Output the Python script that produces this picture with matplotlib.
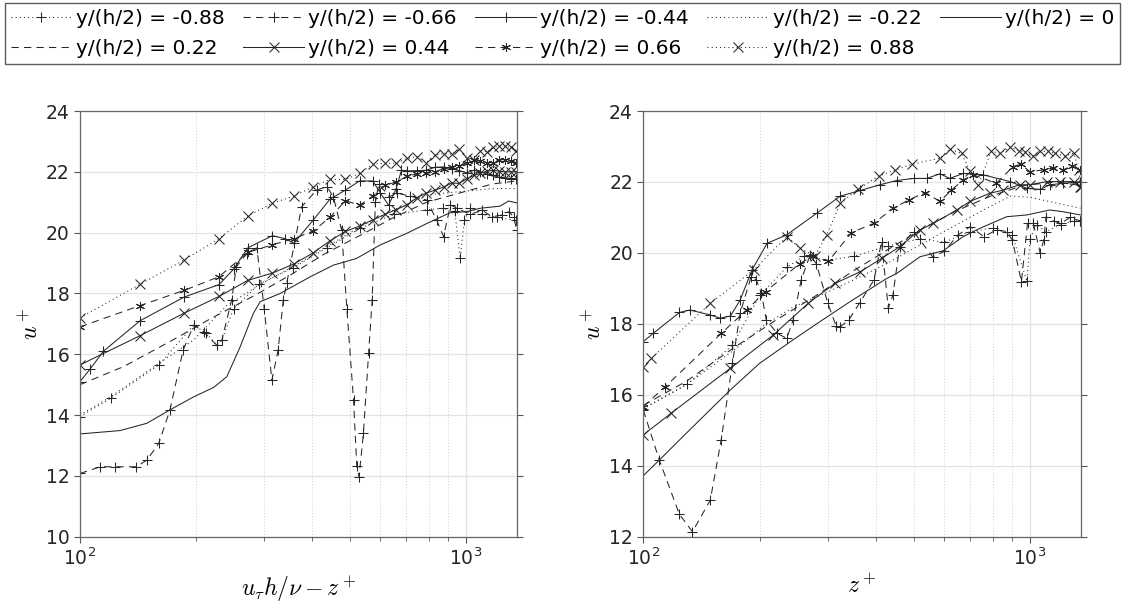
import numpy as np
import matplotlib
matplotlib.use("Agg")
import matplotlib.pyplot as plt
from matplotlib.lines import Line2D

plt.rcParams['mathtext.fontset'] = 'cm'
plt.rcParams['font.family'] = 'DejaVu Sans'

labels = ["y/(h/2) = -0.88", "y/(h/2) = -0.66", "y/(h/2) = -0.44", "y/(h/2) = -0.22",
          "y/(h/2) = 0", "y/(h/2) = 0.22", "y/(h/2) = 0.44", "y/(h/2) = 0.66", "y/(h/2) = 0.88"]

# ---------------- left panel data (x = u_tau h/nu - z+) ----------------
L_m088_x = [100, 120, 160, 197, 212, 226, 233, 250, 290, 357, 436, 532, 649, 791, 870, 935, 965, 990, 1025, 1100, 1200, 1350]
L_m088_u = [13.95, 14.55, 15.65, 16.96, 16.7, 16.3, 16.47, 17.5, 18.3, 18.85, 19.5, 20.15, 20.6, 20.75, 20.8, 20.7, 19.15, 20.4, 20.8, 20.6, 20.5, 20.4]

L_m066_x = [100, 113, 123, 140, 149, 160, 171, 185, 197, 209, 226, 233, 247, 254, 270, 287, 300, 314, 326, 336, 343, 375, 410, 436, 453, 476, 491, 511, 521, 528, 542, 559, 571, 582, 594, 633, 661, 716, 791, 839, 874, 911, 949, 1025, 1100, 1167, 1239, 1290, 1328, 1352]
L_m066_u = [12.08, 12.3, 12.3, 12.3, 12.52, 13.07, 14.17, 16.14, 16.96, 16.74, 16.3, 16.47, 17.78, 18.88, 19.3, 19.5, 17.5, 15.15, 16.14, 17.78, 18.33, 20.85, 21.4, 21.51, 21.18, 20.08, 17.5, 14.49, 12.32, 11.97, 13.4, 16.03, 17.78, 21.0, 21.6, 21.18, 21.3, 21.2, 21.07, 20.41, 19.87, 20.91, 20.8, 20.6, 20.74, 20.52, 20.58, 20.69, 20.52, 20.08]

L_m044_x = [100, 106, 115, 143, 186, 229, 250, 272, 315, 340, 358, 401, 444, 487, 530, 573, 600, 630, 659, 680, 702, 745, 788, 831, 874, 917, 960, 1003, 1046, 1089, 1132, 1175, 1218, 1261, 1304, 1350]
L_m044_u = [15.1, 15.5, 16.1, 17.1, 17.88, 18.29, 18.8, 19.5, 19.9, 19.8, 19.65, 20.4, 21.1, 21.4, 21.7, 21.7, 21.3, 20.9, 21.45, 22.05, 22.03, 22.04, 22.05, 22.15, 22.16, 22.1, 22.04, 21.97, 22.05, 22.0, 21.93, 21.88, 21.82, 21.8, 21.78, 21.78]

L_m022_x = [100, 120, 160, 197, 240, 293, 357, 436, 532, 649, 791, 965, 1178, 1350]
L_m022_u = [14.0, 14.6, 15.7, 16.47, 17.6, 18.3, 18.88, 19.54, 20.2, 20.74, 21.24, 21.35, 21.45, 21.45]

L_0_x = [100, 127, 149, 171, 197, 222, 240, 260, 281, 293, 330, 395, 453, 520, 598, 700, 791, 907, 1003, 1085, 1224, 1288, 1350]
L_0_u = [13.38, 13.49, 13.73, 14.17, 14.6, 14.91, 15.26, 16.25, 17.34, 17.73, 18.0, 18.55, 18.93, 19.15, 19.59, 19.97, 20.3, 20.65, 20.69, 20.8, 20.87, 21.04, 20.98]

L_022_x = [100, 130, 170, 220, 280, 350, 430, 530, 650, 790, 960, 1170, 1350]
L_022_u = [15.0, 15.6, 16.4, 17.2, 17.9, 18.6, 19.3, 19.9, 20.5, 21.0, 21.3, 21.6, 21.7]

L_044_x = [100, 143, 186, 229, 272, 315, 358, 401, 444, 487, 530, 573, 616, 659, 702, 745, 788, 831, 874, 917, 960, 1003, 1046, 1089, 1132, 1175, 1218, 1261, 1304, 1350]
L_044_u = [15.65, 16.61, 17.35, 17.9, 18.43, 18.67, 18.97, 19.33, 19.73, 20.04, 20.22, 20.42, 20.6, 20.76, 20.91, 21.15, 21.3, 21.4, 21.5, 21.63, 21.62, 21.77, 21.88, 21.95, 22.02, 22.05, 22.02, 22.0, 22.0, 22.0]

L_066_x = [100, 143, 186, 229, 272, 315, 358, 401, 444, 487, 530, 573, 616, 659, 702, 745, 788, 831, 874, 917, 960, 1003, 1046, 1089, 1132, 1175, 1218, 1261, 1304, 1350]
L_066_u = [16.9, 17.6, 18.1, 18.55, 19.35, 19.6, 19.8, 20.05, 20.5, 21.05, 20.9, 21.2, 21.55, 21.67, 21.85, 21.93, 21.95, 22.0, 22.1, 22.15, 22.2, 22.3, 22.4, 22.35, 22.3, 22.3, 22.4, 22.4, 22.35, 22.3]

L_088_x = [100, 143, 186, 229, 272, 315, 358, 401, 444, 487, 530, 573, 616, 659, 702, 745, 788, 831, 874, 917, 960, 1003, 1046, 1089, 1132, 1175, 1218, 1261, 1304, 1350]
L_088_u = [17.2, 18.3, 19.1, 19.8, 20.55, 20.97, 21.2, 21.5, 21.75, 21.75, 21.95, 22.25, 22.28, 22.28, 22.44, 22.5, 22.3, 22.55, 22.6, 22.58, 22.75, 22.45, 22.4, 22.7, 22.65, 22.8, 22.85, 22.85, 22.8, 22.7]

# ---------------- right panel data (x = z+) ----------------
R_m088_x = [100, 130, 170, 200, 235, 260, 300, 350, 430, 520, 600, 700, 800, 900, 981, 1000, 1040, 1100, 1200, 1300, 1350]
R_m088_u = [15.6, 16.3, 17.4, 18.8, 19.6, 19.9, 19.8, 19.9, 20.2, 20.4, 20.3, 20.6, 20.7, 20.5, 19.2, 20.4, 20.8, 20.6, 20.8, 20.9, 20.9]

R_m066_x = [100, 110, 124, 134, 149, 159, 170, 178, 190, 196, 202, 208, 222, 235, 244, 256, 270, 280, 300, 315, 323, 340, 363, 395, 413, 430, 442, 460, 500, 560, 600, 650, 700, 760, 820, 870, 900, 950, 985, 1020, 1062, 1085, 1100, 1150, 1200, 1270, 1350]
R_m066_u = [15.57, 14.16, 12.63, 12.14, 13.03, 14.73, 16.89, 18.3, 19.33, 19.24, 18.86, 18.11, 17.73, 17.59, 18.11, 19.24, 19.94, 19.7, 18.58, 17.95, 17.92, 18.11, 18.6, 19.24, 20.32, 18.44, 18.81, 20.18, 20.6, 19.89, 20.04, 20.5, 20.74, 20.46, 20.65, 20.6, 20.36, 19.19, 20.83, 20.83, 20.0, 20.36, 21.02, 20.9, 20.83, 21.0, 20.9]

R_m044_x = [100, 106, 124, 132, 149, 158, 168, 178, 191, 209, 235, 281, 323, 364, 409, 452, 500, 541, 585, 620, 672, 757, 889, 981, 1062, 1125, 1218, 1350]
R_m044_u = [17.5, 17.73, 18.32, 18.39, 18.25, 18.16, 18.22, 18.67, 19.52, 20.27, 20.51, 21.12, 21.6, 21.76, 21.92, 22.04, 22.1, 22.1, 22.23, 22.1, 22.24, 22.2, 22.01, 21.82, 21.79, 21.92, 21.96, 22.01]

R_m022_x = [100, 129, 174, 206, 245, 300, 350, 426, 519, 632, 755, 890, 1000, 1120, 1350]
R_m022_u = [15.62, 16.28, 17.31, 17.97, 18.48, 18.9, 19.24, 19.7, 20.22, 20.74, 21.2, 21.6, 21.57, 21.45, 21.26]

R_0_x = [100, 110, 129, 168, 200, 244, 286, 343, 426, 452, 519, 596, 672, 741, 870, 981, 1125, 1218, 1350]
R_0_u = [13.72, 14.16, 14.91, 16.14, 16.89, 17.55, 18.06, 18.63, 19.28, 19.42, 19.89, 20.06, 20.46, 20.69, 21.02, 21.07, 21.21, 21.16, 21.07]

R_022_x = [100, 130, 170, 220, 280, 350, 430, 530, 650, 790, 960, 1170, 1350]
R_022_u = [15.7, 16.4, 17.3, 18.1, 18.8, 19.5, 20.1, 20.7, 21.2, 21.6, 21.9, 22.0, 21.9]

R_044_x = [100, 118, 168, 217, 267, 313, 364, 414, 461, 519, 562, 646, 699, 787, 852, 940, 998, 1105, 1198, 1296, 1350]
R_044_u = [14.87, 15.48, 16.75, 17.69, 18.58, 19.14, 19.47, 19.85, 20.18, 20.65, 20.83, 21.21, 21.45, 21.68, 21.77, 21.92, 21.92, 22.01, 22.01, 22.01, 21.87]

R_066_x = [100, 114, 159, 185, 207, 254, 275, 301, 345, 394, 443, 485, 535, 585, 626, 672, 714, 818, 903, 948, 998, 1084, 1144, 1218, 1280, 1350]
R_066_u = [15.67, 16.23, 17.73, 18.39, 18.91, 19.7, 19.92, 19.76, 20.57, 20.83, 21.26, 21.49, 21.7, 21.45, 21.77, 22.06, 22.2, 21.96, 22.43, 22.5, 22.29, 22.34, 22.39, 22.34, 22.45, 22.34]

R_088_x = [100, 105, 149, 193, 235, 254, 278, 298, 323, 360, 406, 448, 495, 585, 620, 665, 699, 734, 793, 837, 889, 935, 972, 1019, 1062, 1115, 1158, 1229, 1296, 1337, 1352]
R_088_u = [16.79, 17.03, 18.58, 19.52, 20.46, 20.13, 19.92, 20.5, 21.4, 21.8, 22.17, 22.34, 22.5, 22.67, 22.92, 22.81, 22.3, 21.9, 22.86, 22.81, 22.98, 22.88, 22.85, 22.73, 22.86, 22.86, 22.81, 22.73, 22.81, 22.34, 21.87]

DASHED = (7, 5)
DOTTED = (1, 3)
styles = [
    dict(dash=DOTTED, marker='+'),
    dict(dash=DASHED, marker='+'),
    dict(dash=None, marker='+'),
    dict(dash=DOTTED, marker=None),
    dict(dash=None, marker=None),
    dict(dash=DASHED, marker=None),
    dict(dash=None, marker='x'),
    dict(dash=DASHED, marker=(6, 2, 0)),
    dict(dash=DOTTED, marker='x'),
]

left_series = [(L_m088_x, L_m088_u), (L_m066_x, L_m066_u), (L_m044_x, L_m044_u),
               (L_m022_x, L_m022_u), (L_0_x, L_0_u), (L_022_x, L_022_u),
               (L_044_x, L_044_u), (L_066_x, L_066_u), (L_088_x, L_088_u)]
right_series = [(R_m088_x, R_m088_u), (R_m066_x, R_m066_u), (R_m044_x, R_m044_u),
                (R_m022_x, R_m022_u), (R_0_x, R_0_u), (R_022_x, R_022_u),
                (R_044_x, R_044_u), (R_066_x, R_066_u), (R_088_x, R_088_u)]

lc = '#262626'
LW = 0.75


def make_kw(st):
    kw = dict(color=lc, lw=LW, marker=st['marker'], ms=6.5, mew=0.75)
    if st['dash'] is None:
        kw['ls'] = '-'
    else:
        kw['ls'] = (0, st['dash'])
    return kw


fig = plt.figure(figsize=(11.29, 6.12), dpi=100)
axL = fig.add_axes([80/1129, 1-536.7/612, 436.7/1129, 425.7/612])
axR = fig.add_axes([643.3/1129, 1-536.7/612, 437.4/1129, 425.7/612])

for ax, series, ylim, yt in [(axL, left_series, (10, 24), np.arange(10, 25, 2)),
                             (axR, right_series, (12, 24), np.arange(12, 25, 2))]:
    for (x, u), st in zip(series, styles):
        ax.plot(x, u, **make_kw(st))
    ax.set_xscale('log')
    ax.set_xlim(100, 1352)
    ax.set_ylim(*ylim)
    ax.set_yticks(yt)
    ax.grid(True, which='major', color='#e3e3e3', lw=0.9, ls='-')
    ax.grid(True, which='minor', axis='x', color='#cfcfcf', lw=0.7, ls=(0, (1, 2)))
    ax.tick_params(which='both', direction='out', top=False, right=True,
                   labelsize=13.5, color='#555555', labelcolor='#262626')
    ax.tick_params(which='major', length=4)
    ax.tick_params(which='minor', length=3)
    for sp in ax.spines.values():
        sp.set_color('#666666')
        sp.set_linewidth(0.9)
    ax.set_ylabel('$u^+$', fontsize=17, labelpad=2)

axL.set_xlabel(r'$u_\tau h/\nu - z^+$', fontsize=17)
axR.set_xlabel(r'$z^+$', fontsize=17)

handles = [Line2D([], [], **make_kw(st)) for st in styles]
order = [0, 5, 1, 6, 2, 7, 3, 8, 4]
leg = fig.legend([handles[i] for i in order], [labels[i] for i in order],
                 loc='upper left', bbox_to_anchor=(0.004, 0.995), ncol=5,
                 fontsize=14.5, frameon=True, fancybox=False, edgecolor='#333333',
                 handlelength=3.05, handletextpad=0.2, columnspacing=0.9,
                 borderpad=0.3, labelspacing=0.55, borderaxespad=0)
leg.get_frame().set_linewidth(1.0)

fig.savefig('out.png', dpi=100)
